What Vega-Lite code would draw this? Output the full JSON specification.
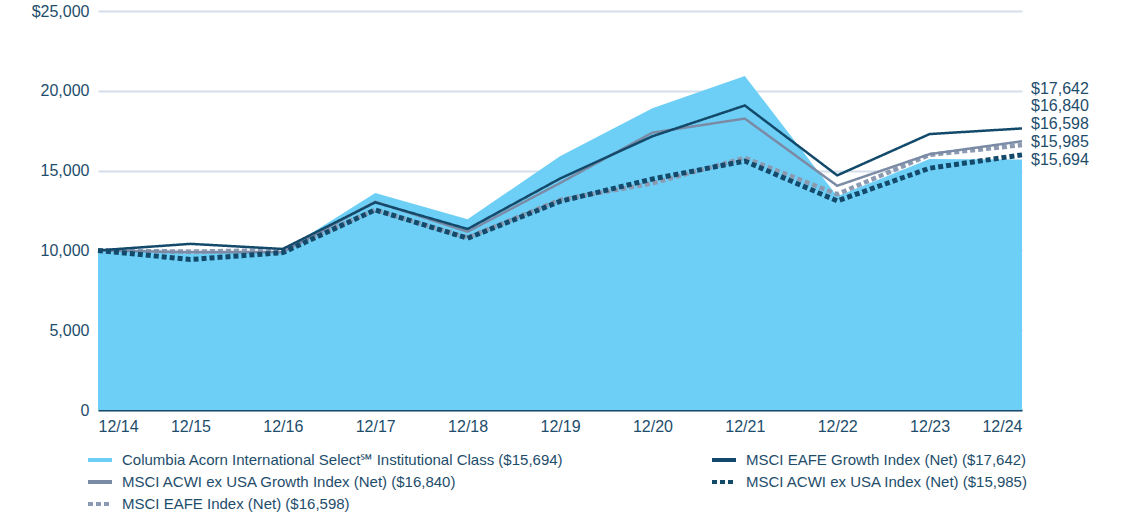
{
  "$schema": "https://vega.github.io/schema/vega-lite/v6.json",
  "width": 924,
  "height": 399,
  "autosize": {"type": "none"},
  "padding": {"left": 98, "top": 11, "right": 99, "bottom": 105},
  "background": "white",
  "config": {"view": {"stroke": null}, "font": "Liberation Sans"},
  "data": {"values": [
    {"date": "12/14", "series": "Columbia Acorn International Select℠ Institutional Class ($15,694)", "value": 10000},
    {"date": "12/14", "series": "MSCI ACWI ex USA Growth Index (Net) ($16,840)", "value": 10000},
    {"date": "12/14", "series": "MSCI EAFE Index (Net) ($16,598)", "value": 10000},
    {"date": "12/14", "series": "MSCI ACWI ex USA Index (Net) ($15,985)", "value": 10000},
    {"date": "12/14", "series": "MSCI EAFE Growth Index (Net) ($17,642)", "value": 10000},
    {"date": "12/15", "series": "Columbia Acorn International Select℠ Institutional Class ($15,694)", "value": 9800},
    {"date": "12/15", "series": "MSCI ACWI ex USA Growth Index (Net) ($16,840)", "value": 9880},
    {"date": "12/15", "series": "MSCI EAFE Index (Net) ($16,598)", "value": 9920},
    {"date": "12/15", "series": "MSCI ACWI ex USA Index (Net) ($15,985)", "value": 9430},
    {"date": "12/15", "series": "MSCI EAFE Growth Index (Net) ($17,642)", "value": 10410},
    {"date": "12/16", "series": "Columbia Acorn International Select℠ Institutional Class ($15,694)", "value": 9950},
    {"date": "12/16", "series": "MSCI ACWI ex USA Growth Index (Net) ($16,840)", "value": 9890},
    {"date": "12/16", "series": "MSCI EAFE Index (Net) ($16,598)", "value": 10020},
    {"date": "12/16", "series": "MSCI ACWI ex USA Index (Net) ($15,985)", "value": 9860},
    {"date": "12/16", "series": "MSCI EAFE Growth Index (Net) ($17,642)", "value": 10090},
    {"date": "12/17", "series": "Columbia Acorn International Select℠ Institutional Class ($15,694)", "value": 13600},
    {"date": "12/17", "series": "MSCI ACWI ex USA Growth Index (Net) ($16,840)", "value": 13050},
    {"date": "12/17", "series": "MSCI EAFE Index (Net) ($16,598)", "value": 12530},
    {"date": "12/17", "series": "MSCI ACWI ex USA Index (Net) ($15,985)", "value": 12540},
    {"date": "12/17", "series": "MSCI EAFE Growth Index (Net) ($17,642)", "value": 13010},
    {"date": "12/18", "series": "Columbia Acorn International Select℠ Institutional Class ($15,694)", "value": 11950},
    {"date": "12/18", "series": "MSCI ACWI ex USA Growth Index (Net) ($16,840)", "value": 11170},
    {"date": "12/18", "series": "MSCI EAFE Index (Net) ($16,598)", "value": 10800},
    {"date": "12/18", "series": "MSCI ACWI ex USA Index (Net) ($15,985)", "value": 10760},
    {"date": "12/18", "series": "MSCI EAFE Growth Index (Net) ($17,642)", "value": 11340},
    {"date": "12/19", "series": "Columbia Acorn International Select℠ Institutional Class ($15,694)", "value": 15900},
    {"date": "12/19", "series": "MSCI ACWI ex USA Growth Index (Net) ($16,840)", "value": 14220},
    {"date": "12/19", "series": "MSCI EAFE Index (Net) ($16,598)", "value": 13170},
    {"date": "12/19", "series": "MSCI ACWI ex USA Index (Net) ($15,985)", "value": 13070},
    {"date": "12/19", "series": "MSCI EAFE Growth Index (Net) ($17,642)", "value": 14500},
    {"date": "12/20", "series": "Columbia Acorn International Select℠ Institutional Class ($15,694)", "value": 18900},
    {"date": "12/20", "series": "MSCI ACWI ex USA Growth Index (Net) ($16,840)", "value": 17380},
    {"date": "12/20", "series": "MSCI EAFE Index (Net) ($16,598)", "value": 14200},
    {"date": "12/20", "series": "MSCI ACWI ex USA Index (Net) ($15,985)", "value": 14470},
    {"date": "12/20", "series": "MSCI EAFE Growth Index (Net) ($17,642)", "value": 17150},
    {"date": "12/21", "series": "Columbia Acorn International Select℠ Institutional Class ($15,694)", "value": 20930},
    {"date": "12/21", "series": "MSCI ACWI ex USA Growth Index (Net) ($16,840)", "value": 18260},
    {"date": "12/21", "series": "MSCI EAFE Index (Net) ($16,598)", "value": 15800},
    {"date": "12/21", "series": "MSCI ACWI ex USA Index (Net) ($15,985)", "value": 15600},
    {"date": "12/21", "series": "MSCI EAFE Growth Index (Net) ($17,642)", "value": 19080},
    {"date": "12/22", "series": "Columbia Acorn International Select℠ Institutional Class ($15,694)", "value": 13400},
    {"date": "12/22", "series": "MSCI ACWI ex USA Growth Index (Net) ($16,840)", "value": 14050},
    {"date": "12/22", "series": "MSCI EAFE Index (Net) ($16,598)", "value": 13520},
    {"date": "12/22", "series": "MSCI ACWI ex USA Index (Net) ($15,985)", "value": 13100},
    {"date": "12/22", "series": "MSCI EAFE Growth Index (Net) ($17,642)", "value": 14700},
    {"date": "12/23", "series": "Columbia Acorn International Select℠ Institutional Class ($15,694)", "value": 15720},
    {"date": "12/23", "series": "MSCI ACWI ex USA Growth Index (Net) ($16,840)", "value": 16030},
    {"date": "12/23", "series": "MSCI EAFE Index (Net) ($16,598)", "value": 15990},
    {"date": "12/23", "series": "MSCI ACWI ex USA Index (Net) ($15,985)", "value": 15150},
    {"date": "12/23", "series": "MSCI EAFE Growth Index (Net) ($17,642)", "value": 17290},
    {"date": "12/24", "series": "Columbia Acorn International Select℠ Institutional Class ($15,694)", "value": 15694},
    {"date": "12/24", "series": "MSCI ACWI ex USA Growth Index (Net) ($16,840)", "value": 16840},
    {"date": "12/24", "series": "MSCI EAFE Index (Net) ($16,598)", "value": 16598},
    {"date": "12/24", "series": "MSCI ACWI ex USA Index (Net) ($15,985)", "value": 15985},
    {"date": "12/24", "series": "MSCI EAFE Growth Index (Net) ($17,642)", "value": 17642}
  ]},
  "encoding": {
    "x": {
      "field": "date", "type": "ordinal",
      "scale": {"type": "point", "padding": 0},
      "axis": {
        "title": null, "labelAngle": 0, "labelFlush": true, "ticks": false,
        "domain": true, "domainColor": "#184a6a", "domainWidth": 2,
        "labelColor": "#1e4d6b", "labelFontSize": 16, "labelPadding": 8, "grid": false
      }
    },
    "y": {
      "field": "value", "type": "quantitative",
      "scale": {"domain": [0, 25000], "nice": false},
      "axis": {
        "title": null, "values": [0, 5000, 10000, 15000, 20000, 25000],
        "labelExpr": "datum.value === 25000 ? '$25,000' : format(datum.value, ',')",
        "domain": false, "ticks": false, "grid": true,
        "gridColor": "#d3dfea", "gridWidth": 2,
        "labelColor": "#1e4d6b", "labelFontSize": 16, "labelPadding": 9
      }
    },
    "color": {
      "field": "series", "type": "nominal",
      "scale": {
        "domain": [
          "Columbia Acorn International Select℠ Institutional Class ($15,694)",
          "MSCI ACWI ex USA Growth Index (Net) ($16,840)",
          "MSCI EAFE Index (Net) ($16,598)",
          "MSCI EAFE Growth Index (Net) ($17,642)",
          "MSCI ACWI ex USA Index (Net) ($15,985)"
        ],
        "range": ["#6dcff6", "#7b8ba6", "#8c9ab1", "#134a6b", "#134a6b"]
      },
      "legend": {
        "title": null, "orient": "none", "legendX": -12, "legendY": 435,
        "columns": 2, "columnPadding": 140, "rowPadding": -18, "padding": 0,
        "labelFont": "Liberation Sans", "labelFontSize": 15, "labelColor": "#1e4d6b", "labelOffset": 8,
        "symbolType": "stroke", "symbolSize": 576, "symbolStrokeWidth": 4, "labelLimit": 600
      }
    }
  },
  "layer": [
    {
      "transform": [{"filter": "indexof(datum.series, 'Columbia') === 0"}],
      "mark": {"type": "area", "opacity": 1},
      "encoding": {}
    },
    {
      "transform": [{"filter": "datum.series === 'MSCI EAFE Index (Net) ($16,598)'"}],
      "mark": {"type": "line", "strokeWidth": 4.5},
      "encoding": {
        "strokeDash": {
          "field": "series", "type": "nominal",
          "scale": {
            "domain": [
              "Columbia Acorn International Select℠ Institutional Class ($15,694)",
              "MSCI ACWI ex USA Growth Index (Net) ($16,840)",
              "MSCI EAFE Index (Net) ($16,598)",
              "MSCI EAFE Growth Index (Net) ($17,642)",
              "MSCI ACWI ex USA Index (Net) ($15,985)"
            ],
            "range": [[1, 0], [1, 0], [5, 3], [1, 0], [5, 3]]
          }
        }
      }
    },
    {
      "transform": [{"filter": "datum.series === 'MSCI ACWI ex USA Growth Index (Net) ($16,840)'"}],
      "mark": {"type": "line", "strokeWidth": 2.5},
      "encoding": {
        "strokeDash": {"field": "series", "type": "nominal"}
      }
    },
    {
      "transform": [{"filter": "datum.series === 'MSCI ACWI ex USA Index (Net) ($15,985)'"}],
      "mark": {"type": "line", "strokeWidth": 5},
      "encoding": {
        "strokeDash": {"field": "series", "type": "nominal"}
      }
    },
    {
      "transform": [{"filter": "datum.series === 'MSCI EAFE Growth Index (Net) ($17,642)'"}],
      "mark": {"type": "line", "strokeWidth": 2.5},
      "encoding": {
        "strokeDash": {"field": "series", "type": "nominal"}
      }
    },
    {
      "transform": [
        {"filter": "datum.date === '12/24'"},
        {"window": [{"op": "row_number", "as": "rank"}], "sort": [{"field": "value", "order": "ascending"}]},
        {"joinaggregate": [{"op": "min", "field": "value", "as": "base"}]},
        {"calculate": "datum.base + (datum.rank - 1) * 1112", "as": "labelPos"},
        {"calculate": "'$' + format(datum.value, ',')", "as": "label"}
      ],
      "mark": {"type": "text", "align": "left", "baseline": "middle", "dx": 9, "fontSize": 16},
      "encoding": {
        "y": {"field": "labelPos", "type": "quantitative"},
        "color": {"value": "#1e4d6b"},
        "text": {"field": "label", "type": "nominal"}
      }
    }
  ]
}
